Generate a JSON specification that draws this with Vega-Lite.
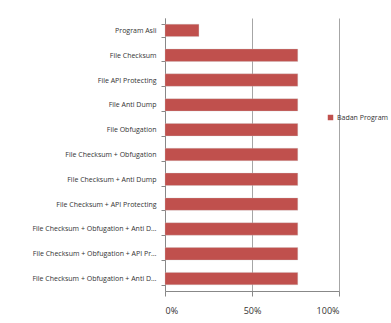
{
  "$schema": "https://vega.github.io/schema/vega-lite/v6.json",
  "width": 174,
  "height": 273,
  "autosize": {"type": "none"},
  "padding": {"left": 165, "top": 18, "right": 52, "bottom": 32},
  "background": "white",
  "data": {
    "values": [
      {"name": "Program  Asli", "value": 0.195, "series": "Badan Program"},
      {"name": "File Checksum", "value": 0.763, "series": "Badan Program"},
      {"name": "File API  Protecting", "value": 0.763, "series": "Badan Program"},
      {"name": "File Anti  Dump", "value": 0.763, "series": "Badan Program"},
      {"name": "File Obfugation", "value": 0.763, "series": "Badan Program"},
      {"name": "File Checksum  + Obfugation", "value": 0.763, "series": "Badan Program"},
      {"name": "File Checksum  + Anti  Dump", "value": 0.763, "series": "Badan Program"},
      {"name": "File Checksum  + API Protecting", "value": 0.763, "series": "Badan Program"},
      {"name": "File Checksum  + Obfugation  + Anti Dump", "value": 0.763, "series": "Badan Program"},
      {"name": "File Checksum  + Obfugation  + API Protecting", "value": 0.763, "series": "Badan Program"},
      {"name": "File Checksum  + Obfugation  + Anti Dump + API Protecting", "value": 0.763, "series": "Badan Program"}
    ]
  },
  "mark": {"type": "bar", "stroke": "#c9c9c9", "strokeWidth": 0.3},
  "encoding": {
    "y": {
      "field": "name",
      "type": "nominal",
      "sort": null,
      "scale": {"paddingInner": 0.5, "paddingOuter": 0.25},
      "axis": {
        "title": null,
        "labelFont": "Open Sans",
        "labelFontSize": 7,
        "labelColor": "#333333",
        "labelLimit": 128,
        "labelPadding": 5,
        "tickSize": 4,
        "tickBand": "extent",
        "tickColor": "#888888",
        "domainColor": "#888888",
        "grid": false
      }
    },
    "x": {
      "field": "value",
      "type": "quantitative",
      "scale": {"domain": [0, 1], "nice": false},
      "axis": {
        "title": null,
        "values": [0, 0.5, 1],
        "format": ".0%",
        "labelFont": "Open Sans",
        "labelFontSize": 9,
        "labelColor": "#333333",
        "labelPadding": 10,
        "tickSize": 5,
        "tickColor": "#888888",
        "domainColor": "#888888",
        "grid": true,
        "gridColor": "#a6a6a6",
        "gridWidth": 1
      }
    },
    "color": {
      "field": "series",
      "type": "nominal",
      "scale": {"range": ["#c0504d"]},
      "legend": {
        "title": null,
        "orient": "none",
        "legendX": 162,
        "legendY": 96,
        "symbolType": "square",
        "symbolSize": 30,
        "symbolStrokeWidth": 0,
        "labelFont": "Open Sans",
        "labelFontSize": 7,
        "labelColor": "#333333",
        "labelOffset": 3
      }
    }
  },
  "config": {"view": {"stroke": null}}
}
